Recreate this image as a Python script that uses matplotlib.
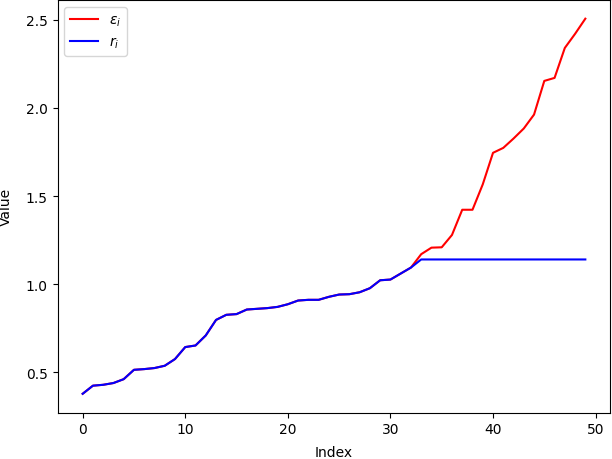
import matplotlib
matplotlib.use("Agg")
import matplotlib.pyplot as plt

# valores
eps = [0.378, 0.424, 0.429, 0.439, 0.461, 0.514, 0.518, 0.524, 0.537, 0.575,
       0.643, 0.652, 0.709, 0.797, 0.826, 0.830, 0.856, 0.860, 0.864, 0.871,
       0.886, 0.907, 0.911, 0.911, 0.928, 0.941, 0.943, 0.954, 0.977, 1.022,
       1.026, 1.060, 1.094, 1.170, 1.207, 1.209, 1.279, 1.422, 1.422, 1.566,
       1.745, 1.773, 1.826, 1.883, 1.962, 2.153, 2.170, 2.340, 2.420, 2.506]

r_cap = 1.14
r = eps[:33] + [r_cap] * 17

idx = list(range(len(eps)))

fig = plt.figure(figsize=(6.12, 4.6), dpi=100)
ax = fig.add_subplot(111)
fig.subplots_adjust(left=0.094, right=0.9975, top=0.998, bottom=0.101)

ax.plot(idx, eps, color='red', label=r'$\epsilon_i$')
ax.plot(idx, r, color='blue', label=r'$r_i$')

ax.set_xlabel('Index', labelpad=6.5)
ax.set_ylabel('Value', labelpad=9.5)
ax.legend(loc='upper left')

fig.savefig('out.png', dpi=100)
